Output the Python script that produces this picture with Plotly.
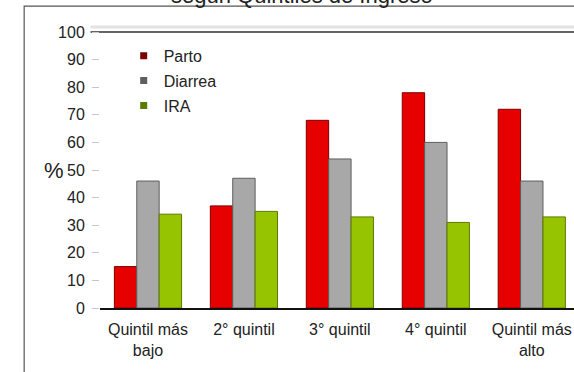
import plotly.graph_objects as go

# Categories and series (% by income quintile)
quintiles = ["Quintil más<br>bajo", "2° quintil", "3° quintil", "4° quintil", "Quintil más<br>alto"]
parto = [15, 37, 68, 78, 72]
diarrea = [46, 47, 54, 60, 46]
ira = [34, 35, 33, 31, 33]
y_ticks = [0, 10, 20, 30, 40, 50, 60, 70, 80, 90, 100]

FONT = "Liberation Sans, Arial, sans-serif"

fig = go.Figure()
series = [
    ("Parto", parto, "#E60000", "#7A0000"),
    ("Diarrea", diarrea, "#A8A8A8", "#5E5E5E"),
    ("IRA", ira, "#97C400", "#5C7A00"),
]
for name, vals, fill, edge in series:
    fig.add_trace(go.Bar(
        name=name, x=quintiles, y=vals, showlegend=False,
        marker=dict(color=fill, line=dict(color=edge, width=1)),
    ))
# Small square keys for the legend
for name, vals, fill, edge in series:
    fig.add_trace(go.Scatter(
        name=name, x=[None], y=[None], mode="markers", legendgroup=name,
        marker=dict(symbol="square", size=7, color=edge),
    ))

fig.update_layout(
    width=574, height=372,
    margin=dict(l=100, r=0, t=32, b=64),
    paper_bgcolor="white", plot_bgcolor="white",
    barmode="group", bargap=0.3, bargroupgap=0,
    font=dict(family=FONT, color="#222", size=16),
    showlegend=True,
    legend=dict(
        x=0.05, y=0.975, xanchor="left", yanchor="top",
        bgcolor="rgba(0,0,0,0)", font=dict(size=16, color="#222"),
        tracegroupgap=1, itemwidth=30,
    ),
    xaxis=dict(
        range=[-0.5, 4.44], showgrid=False, showline=True,
        linecolor="#111", linewidth=2, ticks="", ticklabelstandoff=6,
        tickfont=dict(size=16, color="#222"),
    ),
    yaxis=dict(
        range=[0, 100], tickvals=y_ticks, showgrid=False, zeroline=False,
        ticks="outside", ticklen=7, tickcolor="#c8c8c8", tickwidth=1,
        ticklabelstandoff=4,
        tickfont=dict(size=16, color="#222"),
    ),
)

# Outer chart frame
fig.add_shape(type="rect", xref="paper", yref="paper",
              x0=-0.16, x1=1.05, y0=-0.5, y1=1.094,
              line=dict(color="#555", width=1.2), fillcolor="rgba(0,0,0,0)", layer="below")

# Double line marking the 100 level (light upper edge, darker rim)
fig.add_shape(type="line", xref="paper", yref="paper", x0=-0.02, x1=1.0, y0=1.018, y1=1.018,
              line=dict(color="#e2e2e2", width=3), layer="below")
fig.add_shape(type="line", xref="paper", yref="paper", x0=-0.02, x1=1.0, y0=1.0, y1=1.0,
              line=dict(color="#666", width=2), layer="below")

# Title (top part runs off the canvas)
fig.add_annotation(
    text="según Quintiles de Ingreso", xref="paper", yref="paper",
    x=0.427, y=1.132, xanchor="center", yanchor="middle", showarrow=False,
    font=dict(size=22, color="#222", family=FONT),
)

# Y-axis label
fig.add_annotation(
    text="%", xref="paper", yref="y", x=-0.097, y=50,
    xanchor="center", yanchor="middle", showarrow=False,
    font=dict(size=22, color="#222", family=FONT),
)

fig.write_html("out.html")
